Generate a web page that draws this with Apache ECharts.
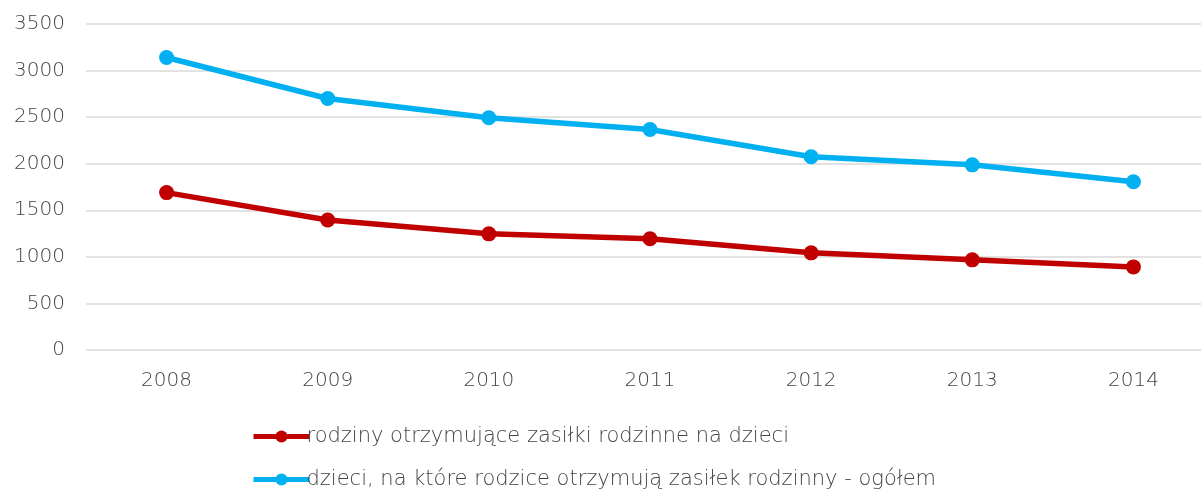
<!DOCTYPE html>
<html>
<head>
<meta charset="utf-8">
<script src="https://cdn.jsdelivr.net/npm/echarts@6/dist/echarts.min.js"></script>
<style>
  html, body { margin: 0; padding: 0; background: #fff; overflow: hidden; }
  /* plot area runs a bit past the right edge, like in the original */
  #chart { width: 1214px; height: 490px; }
</style>
</head>
<body>
<div id="chart"></div>
<script>
// dane
const years = ['2008', '2009', '2010', '2011', '2012', '2013', '2014'];
const families = [1690, 1395, 1247, 1194, 1043, 968, 892];
const children = [3140, 2700, 2493, 2368, 2075, 1988, 1806];
const seriesNames = [
  'rodziny otrzymujące zasiłki rodzinne na dzieci',
  'dzieci, na które rodzice otrzymują zasiłek rodzinny - ogółem'
];
const colors = ['#c00000', '#00b0f0'];

const txt = '#444444';
const font = '"DejaVu Sans", sans-serif';

function legendFor(i, top) {
  return {
    left: 246,
    top: top,
    itemWidth: 56,
    itemHeight: 15,
    lineStyle: { width: 5 },
    textStyle: { color: txt, fontSize: 21, fontWeight: 200, fontFamily: font, padding: [0, 0, 0, -8] },
    data: [seriesNames[i]]
  };
}

const chart = echarts.init(document.getElementById('chart'));
chart.setOption({
  animation: false,
  grid: { left: 86, right: 0, top: 24, bottom: 140, containLabel: false },
  legend: [legendFor(0, 421), legendFor(1, 464)],
  xAxis: {
    type: 'category',
    data: years,
    axisLine: { show: false },
    axisTick: { show: false },
    axisLabel: { color: txt, fontSize: 20, fontWeight: 200, fontFamily: font, margin: 21 }
  },
  yAxis: {
    type: 'value',
    min: 0,
    max: 3500,
    interval: 500,
    axisLine: { show: false },
    axisTick: { show: false },
    axisLabel: { color: txt, fontSize: 20, fontWeight: 200, fontFamily: font, margin: 21, formatter: v => String(v) },
    splitLine: { lineStyle: { color: '#d9d9d9', width: 1.5 } }
  },
  series: [
    {
      name: seriesNames[0],
      type: 'line',
      data: families,
      symbol: 'circle',
      symbolSize: 15,
      lineStyle: { color: colors[0], width: 5.5 },
      itemStyle: { color: colors[0] }
    },
    {
      name: seriesNames[1],
      type: 'line',
      data: children,
      symbol: 'circle',
      symbolSize: 15,
      lineStyle: { color: colors[1], width: 5.5 },
      itemStyle: { color: colors[1] }
    }
  ]
});
</script>
</body>
</html>
